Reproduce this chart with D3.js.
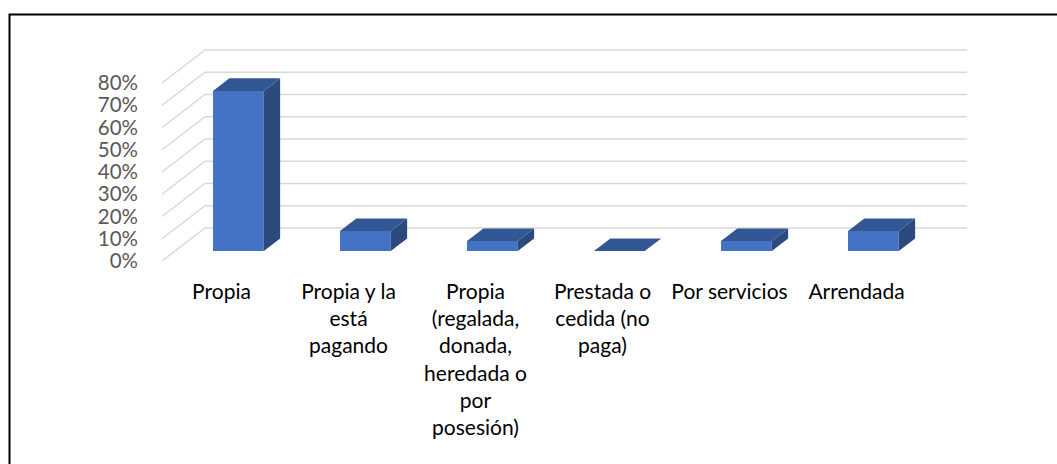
<!DOCTYPE html>
<html>
<head>
<meta charset="utf-8">
<script src="https://cdn.jsdelivr.net/npm/d3@7"></script>
<style>
  body { margin: 0; background: #fff; }
  svg { display: block; }
</style>
</head>
<body>
<div id="chart"></div>
<script>
// data
const categories = [
  "Propia",
  "Propia y la está pagando",
  "Propia (regalada, donada, heredada o por posesión)",
  "Prestada o cedida (no paga)",
  "Por servicios",
  "Arrendada"
]
// the axis labels, broken where the original breaks them
const categoryLines = [
  ["Propia"],
  ["Propia y la", "está", "pagando"],
  ["Propia", "(regalada,", "donada,", "heredada o", "por", "posesión)"],
  ["Prestada o", "cedida (no", "paga)"],
  ["Por servicios"],
  ["Arrendada"]
]
const values = [0.72, 0.09, 0.045, 0, 0.045, 0.09]
const tickValues = [0, 0.1, 0.2, 0.3, 0.4, 0.5, 0.6, 0.7, 0.8]

const width = 1057, height = 464

// fake 3d: front plane of the plot, and how far the back wall is pushed
const front = {left: 162, right: 924, bottom: 261, top: 83}
const depth = {dx: 43, dy: -33}
const barFront = 0.30, barBack = 0.68

const svg = d3.select("#chart").append("svg")
  .attr("width", width)
  .attr("height", height)

// outer frame (runs off the right / bottom of the picture)
svg.append("rect")
  .attr("x", 9.5).attr("y", 14.5)
  .attr("width", 1200).attr("height", 600)
  .attr("fill", "none")
  .attr("stroke", "#000")
  .attr("stroke-width", 2)

const x = d3.scaleBand()
  .domain(categories)
  .range([front.left, front.right])

const y = d3.scaleLinear()
  .domain([0, 0.8])
  .range([front.bottom, front.top])

// project a point at depth t (0 = front, 1 = back wall)
function p(px, v, t) {
  return [px + depth.dx * t, y(v) + depth.dy * t]
}

// gridlines: side wall diagonal + back wall horizontal
const grid = svg.append("g")
  .attr("stroke", "#d9d9d9")
  .attr("stroke-width", 1.5)
  .attr("fill", "none")

grid.selectAll("path")
  .data(tickValues)
  .enter()
  .append("path")
  .attr("d", function(v) {
    const a = p(front.left, v, 0), b = p(front.left, v, 1), c = p(front.right, v, 1)
    return "M" + a + "L" + b + "L" + c
  })

// y labels
svg.append("g")
  .attr("transform", "translate(143,0)")
  .call(d3.axisLeft(y).tickValues(tickValues).tickSize(0).tickPadding(5).tickFormat(d3.format(".0%")))
  .call(g => g.select(".domain").remove())
  .selectAll("text")
  .attr("font-family", "Lato, sans-serif")
  .attr("font-size", 20.5)
  .attr("fill", "#595959")

// bars
const bw = x.bandwidth() * 0.4
const bars = svg.append("g").selectAll("g")
  .data(categories.map((c, i) => ({cat: c, value: values[i]})))
  .enter()
  .append("g")

bars.append("path")
  .attr("fill", "#4472c4")
  .attr("d", function(d) {
    const x0 = x(d.cat) + (x.bandwidth() - bw) / 2
    const pts = [p(x0, 0, barFront), p(x0 + bw, 0, barFront), p(x0 + bw, d.value, barFront), p(x0, d.value, barFront)]
    return "M" + pts.join("L") + "Z"
  })

bars.append("path")
  .attr("fill", "#2c4a7e")
  .attr("d", function(d) {
    const x1 = x(d.cat) + (x.bandwidth() + bw) / 2
    const pts = [p(x1, 0, barFront), p(x1, 0, barBack), p(x1, d.value, barBack), p(x1, d.value, barFront)]
    return "M" + pts.join("L") + "Z"
  })

bars.append("path")
  .attr("fill", "#335694")
  .attr("d", function(d) {
    const x0 = x(d.cat) + (x.bandwidth() - bw) / 2
    const pts = [p(x0, d.value, barFront), p(x0 + bw, d.value, barFront), p(x0 + bw, d.value, barBack), p(x0, d.value, barBack)]
    return "M" + pts.join("L") + "Z"
  })

// category labels, one tspan per line
const xAxis = svg.append("g")
  .attr("transform", "translate(-4,280)")
  .call(d3.axisBottom(x).tickSize(0).tickPadding(0))
xAxis.select(".domain").remove()
xAxis.selectAll("text")
  .attr("font-family", "Lato, sans-serif")
  .attr("font-size", 21)
  .attr("fill", "#000")
  .attr("dy", null)
  .text(null)
  .selectAll("tspan")
  .data((d, i) => categoryLines[i])
  .enter()
  .append("tspan")
  .attr("x", 0)
  .attr("y", (d, i) => 19 + i * 27.2)
  .text(d => d)
</script>
</body>
</html>
